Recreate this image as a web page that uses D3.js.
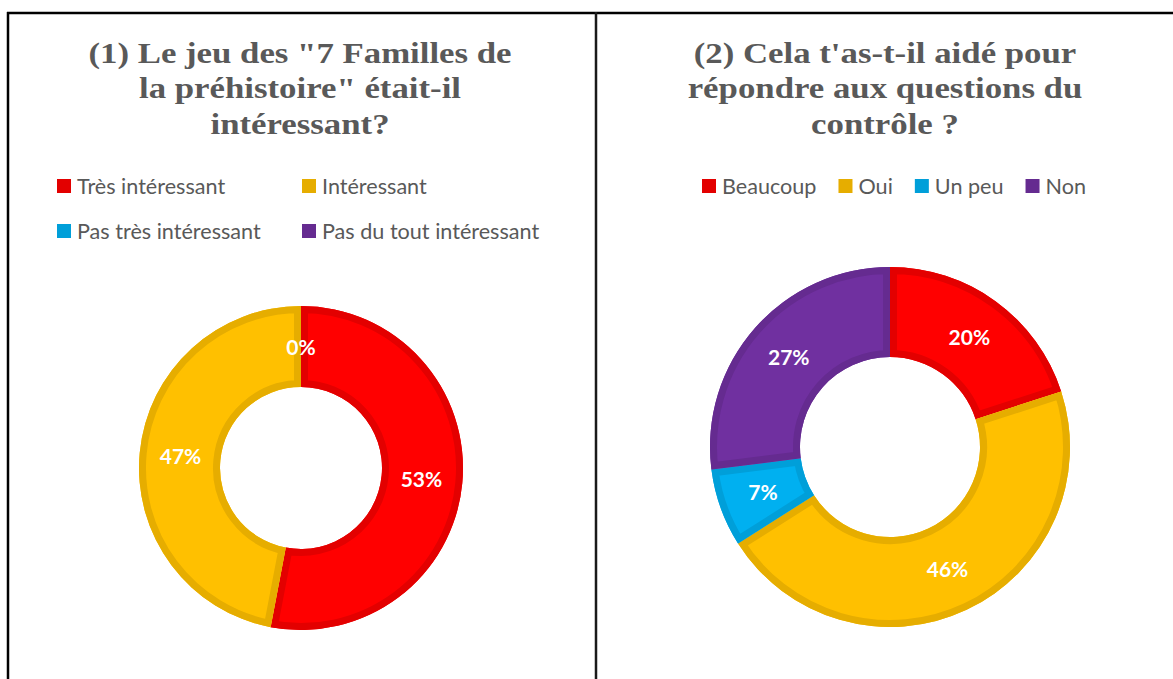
<!DOCTYPE html>
<html>
<head>
<meta charset="utf-8">
<script src="https://cdn.jsdelivr.net/npm/d3@7"></script>
<style>
  body { margin: 0; background: #fff; }
  svg { display: block; }
</style>
</head>
<body>
<div id="container"></div>
<script>
// data
const title1 = ["(1) Le jeu des \"7 Familles de", "la préhistoire\" était-il", "intéressant?"];
const categories1 = ["Très intéressant", "Intéressant", "Pas très intéressant", "Pas du tout intéressant"];
const values1 = [53, 47, 0, null];

const title2 = ["(2) Cela t'as-t-il aidé pour", "répondre aux questions du", "contrôle ?"];
const categories2 = ["Beaucoup", "Oui", "Un peu", "Non"];
const values2 = [20, 46, 7, 27];

const fills = ["#FF0000", "#FFC000", "#00B0F0", "#7030A0"];
const borders = ["#E30000", "#E6AD00", "#009FD9", "#652B90"];

const w = 1173;
const h = 679;

const svg = d3.select("#container")
              .append("svg")
              .attr("width", w)
              .attr("height", h);

// frame lines
svg.append("line").attr("x1", 7).attr("x2", w).attr("y1", 13).attr("y2", 13)
   .attr("stroke", "#000").attr("stroke-width", 2.5);
svg.append("line").attr("x1", 8).attr("x2", 8).attr("y1", 12).attr("y2", h)
   .attr("stroke", "#000").attr("stroke-width", 2.5);
svg.append("line").attr("x1", 596).attr("x2", 596).attr("y1", 12).attr("y2", h)
   .attr("stroke", "#1a1a1a").attr("stroke-width", 2.5);

const color = d3.scaleOrdinal().range(fills);
const border = d3.scaleOrdinal().range(borders);

function drawTitle(lines, cx) {
    // title font is wider than Liberation Serif, stretch it a bit
    svg.append("g")
       .attr("transform", "translate(" + cx + ",0) scale(1.2,1)")
       .append("text")
       .attr("text-anchor", "middle")
       .attr("font-family", "'Liberation Serif', 'Times New Roman', serif")
       .attr("font-weight", "bold")
       .attr("font-size", "29px")
       .attr("fill", "#595959")
       .selectAll("tspan")
       .data(lines)
       .enter()
       .append("tspan")
       .attr("x", 0)
       .attr("y", (d, i) => 63 + i * 35.5)
       .text(d => d);
}

function drawDonut(id, cats, vals, cx, cy, R, r, labelR) {
    color.domain(cats);
    border.domain(cats);
    const data = cats.map((c, i) => ({ cat: c, value: vals[i] }));
    const pie = d3.pie().sort(null).value(d => d.value || 0);
    const arcs = pie(data);
    const arc = d3.arc().innerRadius(r).outerRadius(R);
    const labelArc = d3.arc().innerRadius(labelR).outerRadius(labelR);

    const g = svg.append("g").attr("transform", "translate(" + cx + "," + cy + ")");
    const defs = svg.append("defs");

    arcs.forEach((d, i) => {
        if (d.endAngle - d.startAngle <= 0) return;
        const cid = id + "-clip-" + i;
        defs.append("clipPath").attr("id", cid)
            .append("path").attr("d", arc(d));
        g.append("path")
         .attr("d", arc(d))
         .attr("fill", color(d.data.cat));
        // inset border
        g.append("path")
         .attr("d", arc(d))
         .attr("fill", "none")
         .attr("stroke", border(d.data.cat))
         .attr("stroke-width", 14)
         .attr("stroke-linejoin", "miter")
         .attr("clip-path", "url(#" + cid + ")");
    });

    g.selectAll("text.lbl")
     .data(arcs.filter(d => d.data.value !== null))
     .enter()
     .append("text")
     .attr("class", "lbl")
     .attr("transform", d => "translate(" + labelArc.centroid(d) + ")")
     .attr("text-anchor", "middle")
     .attr("dy", "0.36em")
     .attr("font-family", "Lato, 'Open Sans', sans-serif")
     .attr("font-weight", "bold")
     .attr("font-size", "21px")
     .attr("fill", "#fff")
     .text(d => d.data.value + "%");
}

function drawLegendItem(cat, x, y) {
    svg.append("rect")
       .attr("x", x).attr("y", y - 7)
       .attr("width", 14).attr("height", 14)
       .attr("fill", border(cat));
    return svg.append("text")
       .attr("x", x + 20).attr("y", y)
       .attr("dy", "0.35em")
       .attr("font-family", "Lato, 'Open Sans', sans-serif")
       .attr("font-size", "21.6px")
       .attr("fill", "#595959")
       .text(cat);
}

// chart 1
drawTitle(title1, 300);
color.domain(categories1); border.domain(categories1);
categories1.forEach((c, i) => {
    drawLegendItem(c, 57 + (i % 2) * 245, 186 + Math.floor(i / 2) * 45);
});
drawDonut("c1", categories1, values1, 301, 468, 162, 81, 121);

// chart 2
drawTitle(title2, 885);
color.domain(categories2); border.domain(categories2);
let lx = 702;
categories2.forEach((c) => {
    const t = drawLegendItem(c, lx, 186);
    lx += 20 + t.node().getComputedTextLength() + 22;
});
drawDonut("c2", categories2, values2, 890, 447, 180, 90, 135);
</script>
</body>
</html>
